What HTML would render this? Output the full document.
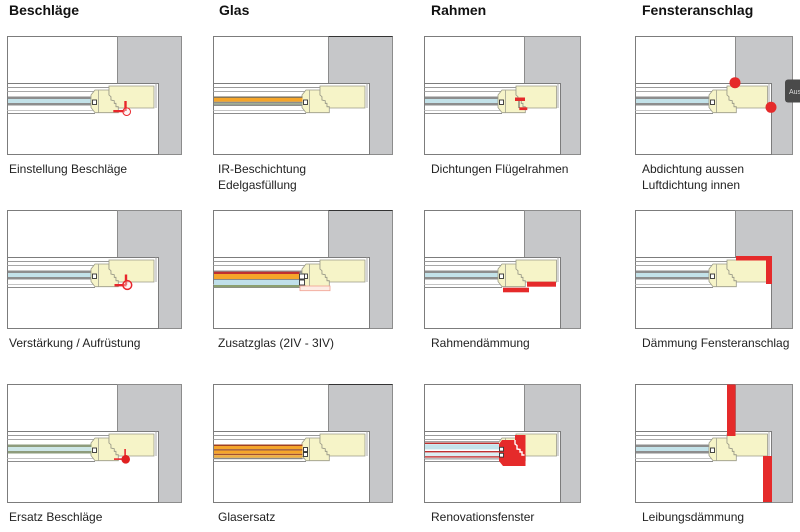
<!DOCTYPE html>
<html>
<head>
<meta charset="utf-8">
<style>
html,body{margin:0;padding:0;background:#fff;}
body{width:800px;height:532px;overflow:hidden;}
svg{display:block;}
.t{font-family:"Liberation Sans",Arial,sans-serif;font-weight:bold;font-size:14px;fill:#111;}
.l{font-family:"Liberation Sans",Arial,sans-serif;font-size:12px;fill:#222;}
</style>
</head>
<body>
<svg width="800" height="532" viewBox="0 0 800 532" xmlns="http://www.w3.org/2000/svg">
<defs>
  <g id="fW">
    <polygon points="-22.5,90 -8.5,90 -8.5,95 -6.5,96.7 -6.5,100 -3.2,100.7 -3.2,103.3 -1.5,103.3 -1.5,106.7 0.8,106.7 0.8,112.7 -22.5,112.7 -26.5,107.5 -26.5,95" fill="#f6f4c8" stroke="#9a9a88" stroke-width="0.8"/>
    <polygon points="-8.5,86 36.5,86 36.5,108 0.8,108 0.8,106.7 -1.5,106.7 -1.5,103.3 -3.2,103.3 -3.2,100.7 -6.5,100 -6.5,96.7 -8.5,95" fill="#f6f4c8" stroke="#9a9a88" stroke-width="0.8"/>
    <line x1="-19" y1="90.5" x2="-19" y2="112.5" stroke="#a0a090" stroke-width="0.8"/>
    <rect x="-25" y="100" width="4" height="4.5" fill="#fff" stroke="#333" stroke-width="0.9"/>
  </g>
  <g id="fN">
    <polygon points="-22.5,90 -8.5,90 -8.5,95 -6.5,96.7 -6.5,100 -3.2,100.7 -3.2,103.3 -1.5,103.3 -1.5,106.7 0.8,106.7 0.8,112.7 -22.5,112.7 -26.5,107.5 -26.5,95" fill="#f6f4c8" stroke="#9a9a88" stroke-width="0.8"/>
    <polygon points="-8.5,86 32,86 32,108 0.8,108 0.8,106.7 -1.5,106.7 -1.5,103.3 -3.2,103.3 -3.2,100.7 -6.5,100 -6.5,96.7 -8.5,95" fill="#f6f4c8" stroke="#9a9a88" stroke-width="0.8"/>
    <line x1="-19" y1="90.5" x2="-19" y2="112.5" stroke="#a0a090" stroke-width="0.8"/>
    <rect x="-25" y="100" width="4" height="4.5" fill="#fff" stroke="#333" stroke-width="0.9"/>
  </g>

  <g id="p1">
    <rect x="7.5" y="36.5" width="110" height="47" fill="#fff" stroke="#7c7c7c"/>
    <rect x="117.5" y="36.5" width="64" height="118" fill="#c6c7c9" stroke="#8c8c8c"/>
    <rect x="7.5" y="83.5" width="151" height="71" fill="#fff" stroke="#7c7c7c"/>
    <line x1="7.5" y1="87.5" x2="109" y2="87.5" stroke="#9a9a9a"/>
    <line x1="7.5" y1="91.5" x2="95" y2="91.5" stroke="#a8a8a8"/>
    <line x1="7.5" y1="110.5" x2="93.5" y2="110.5" stroke="#c4c4c4"/>
    <line x1="7.5" y1="113.5" x2="95" y2="113.5" stroke="#8c8c8c"/>
    <line x1="156" y1="83.5" x2="156" y2="108" stroke="#a8a8a8"/>
    <rect x="8" y="96.5" width="83.5" height="9" fill="#8d8d8d"/>
    <rect x="8" y="99" width="83.5" height="4" fill="#c3e2e9"/>
    <use href="#fW" transform="translate(117.5,0)"/>
  </g>
  <g id="p2">
    <rect x="213.5" y="36.5" width="115" height="47" fill="#fff" stroke="#7c7c7c"/>
    <rect x="328.5" y="36.5" width="64" height="118" fill="#c6c7c9" stroke="#8c8c8c"/>
    <line x1="328.5" y1="36.5" x2="392.5" y2="36.5" stroke="#333"/>
    <rect x="213.5" y="83.5" width="156" height="71" fill="#fff" stroke="#7c7c7c"/>
    <line x1="213.5" y1="87.5" x2="320" y2="87.5" stroke="#9a9a9a"/>
    <line x1="213.5" y1="91.5" x2="306" y2="91.5" stroke="#a8a8a8"/>
    <line x1="213.5" y1="110.5" x2="304.5" y2="110.5" stroke="#c4c4c4"/>
    <line x1="213.5" y1="113.5" x2="306" y2="113.5" stroke="#8c8c8c"/>
    <line x1="367" y1="83.5" x2="367" y2="108" stroke="#a8a8a8"/>
    <rect x="214" y="96.5" width="88.5" height="9" fill="#8d8d8d"/>
    <rect x="214" y="99" width="88.5" height="4" fill="#c3e2e9"/>
    <use href="#fW" transform="translate(328.5,0)"/>
  </g>
  <g id="p3">
    <rect x="424.5" y="36.5" width="100" height="47" fill="#fff" stroke="#7c7c7c"/>
    <rect x="524.5" y="36.5" width="56" height="118" fill="#c6c7c9" stroke="#8c8c8c"/>
    <rect x="424.5" y="83.5" width="136" height="71" fill="#fff" stroke="#7c7c7c"/>
    <line x1="424.5" y1="87.5" x2="516" y2="87.5" stroke="#9a9a9a"/>
    <line x1="424.5" y1="91.5" x2="502" y2="91.5" stroke="#a8a8a8"/>
    <line x1="424.5" y1="110.5" x2="500.5" y2="110.5" stroke="#c4c4c4"/>
    <line x1="424.5" y1="113.5" x2="502" y2="113.5" stroke="#8c8c8c"/>
    <line x1="558" y1="83.5" x2="558" y2="108" stroke="#a8a8a8"/>
    <rect x="425" y="96.5" width="73.5" height="9" fill="#8d8d8d"/>
    <rect x="425" y="99" width="73.5" height="4" fill="#c3e2e9"/>
    <use href="#fN" transform="translate(524.5,0)"/>
  </g>
  <g id="p4">
    <rect x="635.5" y="36.5" width="100" height="47" fill="#fff" stroke="#7c7c7c"/>
    <rect x="735.5" y="36.5" width="57" height="118" fill="#c6c7c9" stroke="#8c8c8c"/>
    <rect x="635.5" y="83.5" width="136" height="71" fill="#fff" stroke="#7c7c7c"/>
    <line x1="635.5" y1="87.5" x2="727" y2="87.5" stroke="#9a9a9a"/>
    <line x1="635.5" y1="91.5" x2="713" y2="91.5" stroke="#a8a8a8"/>
    <line x1="635.5" y1="110.5" x2="711.5" y2="110.5" stroke="#c4c4c4"/>
    <line x1="635.5" y1="113.5" x2="713" y2="113.5" stroke="#8c8c8c"/>
    <line x1="769" y1="83.5" x2="769" y2="108" stroke="#a8a8a8"/>
    <rect x="636" y="96.5" width="73.5" height="9" fill="#8d8d8d"/>
    <rect x="636" y="99" width="73.5" height="4" fill="#c3e2e9"/>
    <use href="#fN" transform="translate(735.5,0)"/>
  </g>
</defs>

<!-- Titles -->
<text class="t" x="9" y="15">Beschläge</text>
<text class="t" x="219" y="15">Glas</text>
<text class="t" x="431" y="15">Rahmen</text>
<text class="t" x="642" y="15">Fensteranschlag</text>

<!-- Row 1 -->
<use href="#p1"/>
<use href="#p2"/>
<use href="#p3"/>
<use href="#p4"/>
<!-- Row 2 -->
<use href="#p1" transform="translate(0,174)"/>
<use href="#p2" transform="translate(0,174)"/>
<use href="#p3" transform="translate(0,174)"/>
<use href="#p4" transform="translate(0,174)"/>
<!-- Row 3 -->
<use href="#p1" transform="translate(0,348)"/>
<use href="#p2" transform="translate(0,348)"/>
<use href="#p3" transform="translate(0,348)"/>
<use href="#p4" transform="translate(0,348)"/>

<!-- R1C1 hardware -->
<g transform="translate(117.5,0)">
  <rect x="6.8" y="101" width="2.4" height="10" fill="#e8262b"/>
  <rect x="-4.2" y="110" width="11.5" height="2.3" fill="#e8262b"/>
  <circle cx="9.2" cy="111.7" r="3.8" fill="#fde6e6" fill-opacity="0.4" stroke="#e8262b" stroke-width="1"/>
</g>
<!-- R2C1 hardware -->
<g transform="translate(117.5,174)">
  <rect x="7.3" y="100.5" width="2.4" height="10.5" fill="#e8262b"/>
  <rect x="-3" y="110" width="12" height="2.4" fill="#e8262b"/>
  <circle cx="9.8" cy="111" r="4.4" fill="#fde6e6" fill-opacity="0.4" stroke="#e8262b" stroke-width="1.5"/>
</g>
<!-- R3C1 green glass + hardware -->
<g transform="translate(0,348)">
  <rect x="8" y="96.5" width="83.5" height="9" fill="#8e9c7c"/>
  <rect x="8" y="99" width="83.5" height="4" fill="#cde6e6"/>
</g>
<g transform="translate(117.5,348)">
  <rect x="6.8" y="101" width="1.6" height="8.5" fill="#e8262b"/>
  <rect x="-3.5" y="110.3" width="11" height="1.6" fill="#e8262b"/>
  <circle cx="8.2" cy="111.3" r="4.3" fill="#e02020"/>
</g>

<!-- R1C2 IR glass -->
<rect x="214" y="96.5" width="88.5" height="1.3" fill="#6b6455"/>
<rect x="214" y="97.8" width="88.5" height="4" fill="#f5a52a"/>
<rect x="214" y="101.8" width="88.5" height="1.4" fill="#8d8d8d"/>
<rect x="214" y="103.2" width="88.5" height="1.3" fill="#a8b898"/>
<rect x="214" y="104.5" width="88.5" height="1.5" fill="#8d8d8d"/>

<!-- R2C2 triple glass -->
<g transform="translate(0,174)">
  <rect x="300" y="112" width="30" height="4.7" fill="#fdece4" stroke="#f0a090" stroke-width="0.8"/>
  <rect x="214" y="97.7" width="85.5" height="2.3" fill="#c03030"/>
  <rect x="214" y="100" width="85.5" height="5" fill="#f5a52a"/>
  <rect x="214" y="105" width="85.5" height="1" fill="#888"/>
  <rect x="214" y="106" width="85.5" height="5" fill="#c0e0ea"/>
  <rect x="214" y="111" width="85.5" height="2.3" fill="#8ca070"/>
  <rect x="299.5" y="100" width="5" height="5" fill="#fff" stroke="#333" stroke-width="0.9"/>
  <rect x="299.5" y="106" width="5" height="5" fill="#fff" stroke="#333" stroke-width="0.9"/>
</g>
<!-- R3C2 Glasersatz -->
<g transform="translate(0,348)">
  <rect x="214" y="96.5" width="88.5" height="1.5" fill="#a04020"/>
  <rect x="214" y="98" width="88.5" height="3.2" fill="#f5a52a"/>
  <rect x="214" y="101.2" width="88.5" height="1.4" fill="#a05030"/>
  <rect x="214" y="102.6" width="88.5" height="3.2" fill="#f5a52a"/>
  <rect x="214" y="105.8" width="88.5" height="1.4" fill="#a05030"/>
  <rect x="214" y="107.2" width="88.5" height="2.6" fill="#f0b040"/>
  <rect x="214" y="109.8" width="88.5" height="1.4" fill="#888"/>
  <rect x="303.5" y="99.5" width="4" height="4" fill="#fff" stroke="#333" stroke-width="0.9"/>
  <rect x="303.5" y="104.5" width="4" height="4" fill="#fff" stroke="#333" stroke-width="0.9"/>
</g>

<!-- R1C3 seals -->
<line x1="519" y1="100.5" x2="519" y2="108" stroke="#555" stroke-width="1"/>
<rect x="515" y="97.5" width="10" height="3.5" fill="#e52a2a"/>
<rect x="519.3" y="107.3" width="8" height="2.8" fill="#e52a2a"/>

<!-- R2C3 frame insulation -->
<rect x="527" y="281.7" width="29" height="5" fill="#e52a2a"/>
<rect x="503" y="287.7" width="26" height="4.6" fill="#e52a2a"/>

<!-- R3C3 renovation window -->
<g transform="translate(0,348)">
  <rect x="425" y="93.2" width="74" height="18.5" fill="#fff"/>
  <rect x="425" y="93.2" width="74" height="1" fill="#8d8d8d"/>
  <rect x="425" y="94.6" width="74" height="1.4" fill="#c03030"/>
  <rect x="425" y="96.2" width="74" height="5.2" fill="#c4e4ec"/>
  <rect x="425" y="103" width="74" height="1.4" fill="#c03030"/>
  <rect x="425" y="104.6" width="74" height="3.4" fill="#dbeff3"/>
  <rect x="425" y="108.2" width="74" height="1.4" fill="#c03030"/>
  <rect x="425" y="110.4" width="74" height="1" fill="#8d8d8d"/>
</g>
<polygon points="502,440 515,440 515,435 525.5,435 525.5,466 503,466 499,461 499,444" fill="#e52a2a"/>
<polyline points="515,440 515,444 517,445.5 517,449 520,449.5 520,452 522,452 522,455 524.5,455" fill="none" stroke="#fff" stroke-width="1.4"/>
<rect x="499.5" y="447.3" width="4" height="3.8" fill="#fff" stroke="#333" stroke-width="0.9"/>
<rect x="499.5" y="453.3" width="4" height="3.8" fill="#fff" stroke="#333" stroke-width="0.9"/>

<!-- R1C4 seal dots -->
<circle cx="735" cy="82.7" r="5.5" fill="#e52a2a"/>
<circle cx="771" cy="107.3" r="5.5" fill="#e52a2a"/>
<!-- tooltip -->
<rect x="785" y="79.5" width="22" height="23" rx="3" fill="#4a4a4a"/>
<text x="789" y="94" font-family="Liberation Sans, Arial, sans-serif" font-size="7" fill="#ddd">Aus</text>

<!-- R2C4 -->
<rect x="736" y="256" width="36" height="4.5" fill="#e52a2a"/>
<rect x="766" y="256" width="6" height="28" fill="#e52a2a"/>

<!-- R3C4 -->
<rect x="727" y="384.5" width="8.5" height="51.5" fill="#e52a2a"/>
<rect x="763" y="456" width="9" height="46" fill="#e52a2a"/>

<!-- Labels row 1 -->
<text class="l" x="9" y="173">Einstellung Beschläge</text>
<text class="l" x="218" y="173">IR-Beschichtung</text>
<text class="l" x="218" y="189">Edelgasfüllung</text>
<text class="l" x="431" y="173">Dichtungen Flügelrahmen</text>
<text class="l" x="642" y="173">Abdichtung aussen</text>
<text class="l" x="642" y="189">Luftdichtung innen</text>
<!-- Labels row 2 -->
<text class="l" x="9" y="347">Verstärkung / Aufrüstung</text>
<text class="l" x="218" y="347">Zusatzglas (2IV - 3IV)</text>
<text class="l" x="431" y="347">Rahmendämmung</text>
<text class="l" x="642" y="347">Dämmung Fensteranschlag</text>
<!-- Labels row 3 -->
<text class="l" x="9" y="521">Ersatz Beschläge</text>
<text class="l" x="218" y="521">Glasersatz</text>
<text class="l" x="431" y="521">Renovationsfenster</text>
<text class="l" x="642" y="521">Leibungsdämmung</text>
</svg>
</body>
</html>
